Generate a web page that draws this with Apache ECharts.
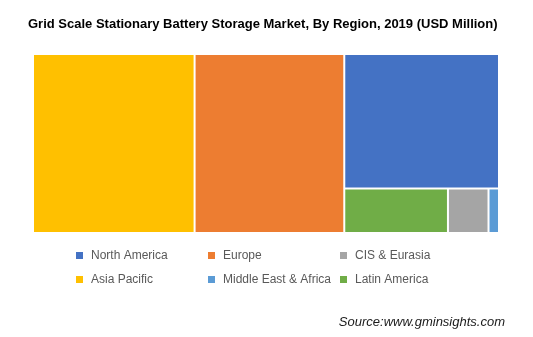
<!DOCTYPE html>
<html>
<head>
<meta charset="utf-8">
<script src="https://cdn.jsdelivr.net/npm/echarts@6/dist/echarts.min.js"></script>
<style>
  html, body { margin: 0; padding: 0; background: #fff; }
  #chart { width: 533px; height: 337px; }
</style>
</head>
<body>
<div id="chart"></div>
<script>
// Grid scale stationary battery storage market by region, 2019 (USD Million)
var regions = ['Asia Pacific', 'Europe', 'North America', 'Latin America', 'CIS & Eurasia', 'Middle East & Africa'];
var values = [2850, 2640, 2050, 455, 178, 46];
var colors = ['#FFC000', '#ED7D31', '#4472C4', '#70AD47', '#A5A5A5', '#5B9BD5'];

// Legend layout: two rows of three entries
var legendRows = [
  ['North America', 'Europe', 'CIS & Eurasia'],
  ['Asia Pacific', 'Middle East & Africa', 'Latin America']
];

var treeData = regions.map(function (name, i) {
  return { name: name, value: values[i], itemStyle: { color: colors[i] } };
});

var legendGraphics = [];
legendRows.forEach(function (row, r) {
  row.forEach(function (name, c) {
    var x = 76 + c * 132;
    var y = 252 + r * 24;
    legendGraphics.push({
      type: 'rect',
      left: x, top: y,
      shape: { width: 7, height: 7 },
      style: { fill: colors[regions.indexOf(name)] },
      silent: true
    });
    legendGraphics.push({
      type: 'text',
      left: x + 15, top: y - 2,
      style: {
        text: name,
        fill: '#595959',
        font: '12px "Liberation Sans", Arial, sans-serif'
      },
      silent: true
    });
  });
});

var chart = echarts.init(document.getElementById('chart'), null, { renderer: 'canvas' });
chart.setOption({
  animation: false,
  backgroundColor: '#fff',
  title: {
    text: 'Grid Scale Stationary Battery Storage Market, By Region, 2019 (USD Million)',
    left: 28,
    top: 18,
    padding: 0,
    textStyle: {
      fontFamily: '"Liberation Sans", Arial, sans-serif',
      fontSize: 13,
      fontWeight: 'bold',
      color: '#000'
    }
  },
  graphic: legendGraphics.concat([
    {
      type: 'text',
      right: 28, top: 316,
      style: {
        text: 'Source:www.gminsights.com',
        fill: '#1a1a1a',
        font: 'italic 13px "Liberation Sans", Arial, sans-serif'
      },
      silent: true
    }
  ]),
  series: [{
    type: 'treemap',
    left: 34,
    top: 55,
    width: 464,
    height: 177,
    roam: false,
    nodeClick: false,
    breadcrumb: { show: false },
    label: { show: false },
    upperLabel: { show: false },
    levels: [
      { itemStyle: { borderWidth: 0, gapWidth: 2, borderColor: '#fff' } },
      { itemStyle: { borderWidth: 0, gapWidth: 0 } }
    ],
    data: treeData
  }]
});
</script>
</body>
</html>
